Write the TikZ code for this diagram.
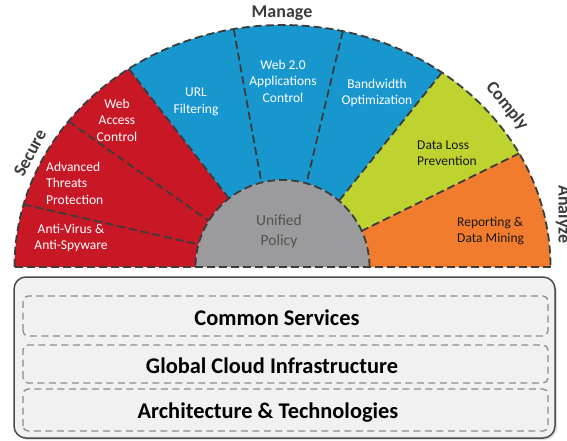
\documentclass[tikz,border=0pt]{standalone}
\usepackage{fontspec}
\setmainfont{Carlito}
\definecolor{segred}{RGB}{200,24,38}
\definecolor{segblue}{RGB}{24,150,206}
\definecolor{seggreen}{RGB}{190,210,48}
\definecolor{segorange}{RGB}{242,124,46}
\definecolor{seggray}{RGB}{155,155,158}
\definecolor{dashc}{RGB}{60,60,60}
\definecolor{titlec}{RGB}{60,60,60}
\definecolor{boxedge}{RGB}{75,75,75}
\definecolor{boxfill}{RGB}{241,241,241}
\definecolor{innerdash}{RGB}{140,140,140}
\tikzset{
  segdash/.style={draw=dashc, line width=1.8pt, dash pattern=on 8pt off 4pt},
  seglabel/.style={text=white, font=\fontsize{13.5}{16.5}\selectfont, align=center, inner sep=0pt},
  darklabel/.style={text=black!90, font=\fontsize{13.5}{16.5}\selectfont, align=left, inner sep=0pt, anchor=west},
  arctitle/.style={text=titlec, font=\bfseries\fontsize{18}{20}\selectfont, inner sep=0pt},
  boxouter/.style={draw=boxedge, line width=1.5pt, fill=boxfill, rounded corners=12pt},
  layerbox/.style={draw=innerdash, line width=1.3pt, dash pattern=on 7pt off 4.5pt, rounded corners=5pt},
  layertext/.style={font=\bfseries\fontsize{22.4}{25}\selectfont, text=black, inner sep=0pt},
  outerarc/.style={x radius=268, y radius=242},
  innerarc/.style={radius=87}
}
\begin{document}
\begin{tikzpicture}[x=1pt,y=1pt]
\useasboundingbox (0,0) rectangle (567,440);
\clip (0,0) rectangle (567,440);
\fill[white] (0,0) rectangle (567,440);

% ---- bottom layered box ----
\fill[black!12, rounded corners=12pt] (16,0) rectangle (557,161);
\draw[boxouter] (14,2) rectangle (555,163);
\draw[layerbox] (23,104) rectangle (548,144);
\draw[layerbox] (23,57) rectangle (548,95);
\draw[layerbox] (23,9) rectangle (548,51);
\node[layertext] (cs) at (277,122) {Common Services};
\node[layertext] (gci) at (272,74) {Global Cloud Infrastructure};
\node[layertext] (at) at (268,27) {Architecture \& Technologies};

% ---- semicircle ----
\begin{scope}[shift={(282.5,173)}]
  \fill[segred] (180:268 and 242) arc[start angle=180, end angle=125, outerarc]
     -- (128:87) arc[start angle=128, end angle=180, innerarc] -- cycle;
  \fill[segblue] (125:268 and 242) arc[start angle=125, end angle=53.5, outerarc]
     -- (49.5:87) arc[start angle=49.5, end angle=128, innerarc] -- cycle;
  \fill[seggreen] (53.5:268 and 242) arc[start angle=53.5, end angle=28, outerarc]
     -- (24.5:87) arc[start angle=24.5, end angle=49.5, innerarc] -- cycle;
  \fill[segorange] (28:268 and 242) arc[start angle=28, end angle=0, outerarc]
     -- (0:87) arc[start angle=0, end angle=24.5, innerarc] -- cycle;
  \fill[seggray] (0:87) arc[start angle=0, end angle=180, innerarc] -- cycle;

  % outlines
  \draw[segdash] (180:268 and 242) arc[start angle=180, end angle=0, outerarc];
  \draw[segdash] (-268,0) -- (268,0);
  \draw[segdash] (0:87) arc[start angle=0, end angle=180, innerarc];
  \draw[segdash] (165:268 and 242) -- (165:87);
  \draw[segdash] (143:268 and 242) -- (148:87);
  \draw[segdash] (125:268 and 242) -- (128:87);
  \draw[segdash] (100.5:268 and 242) -- (104:87);
  \draw[segdash] (77:268 and 242) -- (74:87);
  \draw[segdash] (53.5:268 and 242) -- (49.5:87);
  \draw[segdash] (28:268 and 242) -- (24.5:87);
\end{scope}

% ---- segment labels ----
\node[seglabel] (wac) at (117,320) {Web\\Access\\Control};
\node[seglabel, align=left, anchor=west] (atp) at (46,257) {Advanced\\Threats\\Protection};
\node[seglabel] (av) at (71,202) {Anti-Virus \&\\Anti-Spyware};
\node[seglabel] (url) at (196,338) {URL\\Filtering};
\node[seglabel] (web) at (283,359) {Web 2.0\\Applications\\Control};
\node[seglabel] (bw) at (377,347) {Bandwidth\\Optimization};
\node[darklabel] (dlp) at (417,287) {Data Loss\\Prevention};
\node[darklabel] (rep) at (457,209) {Reporting \&\\Data Mining};
\node[inner sep=0pt, align=center, text=black!68, font=\fontsize{15.5}{20}\selectfont] (up) at (279,209) {Unified\\Policy};

% ---- arc titles ----
\node[arctitle] (manage) at (282,427) {Manage};
\node[arctitle, rotate=62] (secure) at (30,287) {Secure};
\node[arctitle, rotate=-51] (comply) at (507,334) {Comply};
\node[arctitle, rotate=-90, anchor=west] (analyze) at (563.5,255) {Analyze};
\end{tikzpicture}
\end{document}
